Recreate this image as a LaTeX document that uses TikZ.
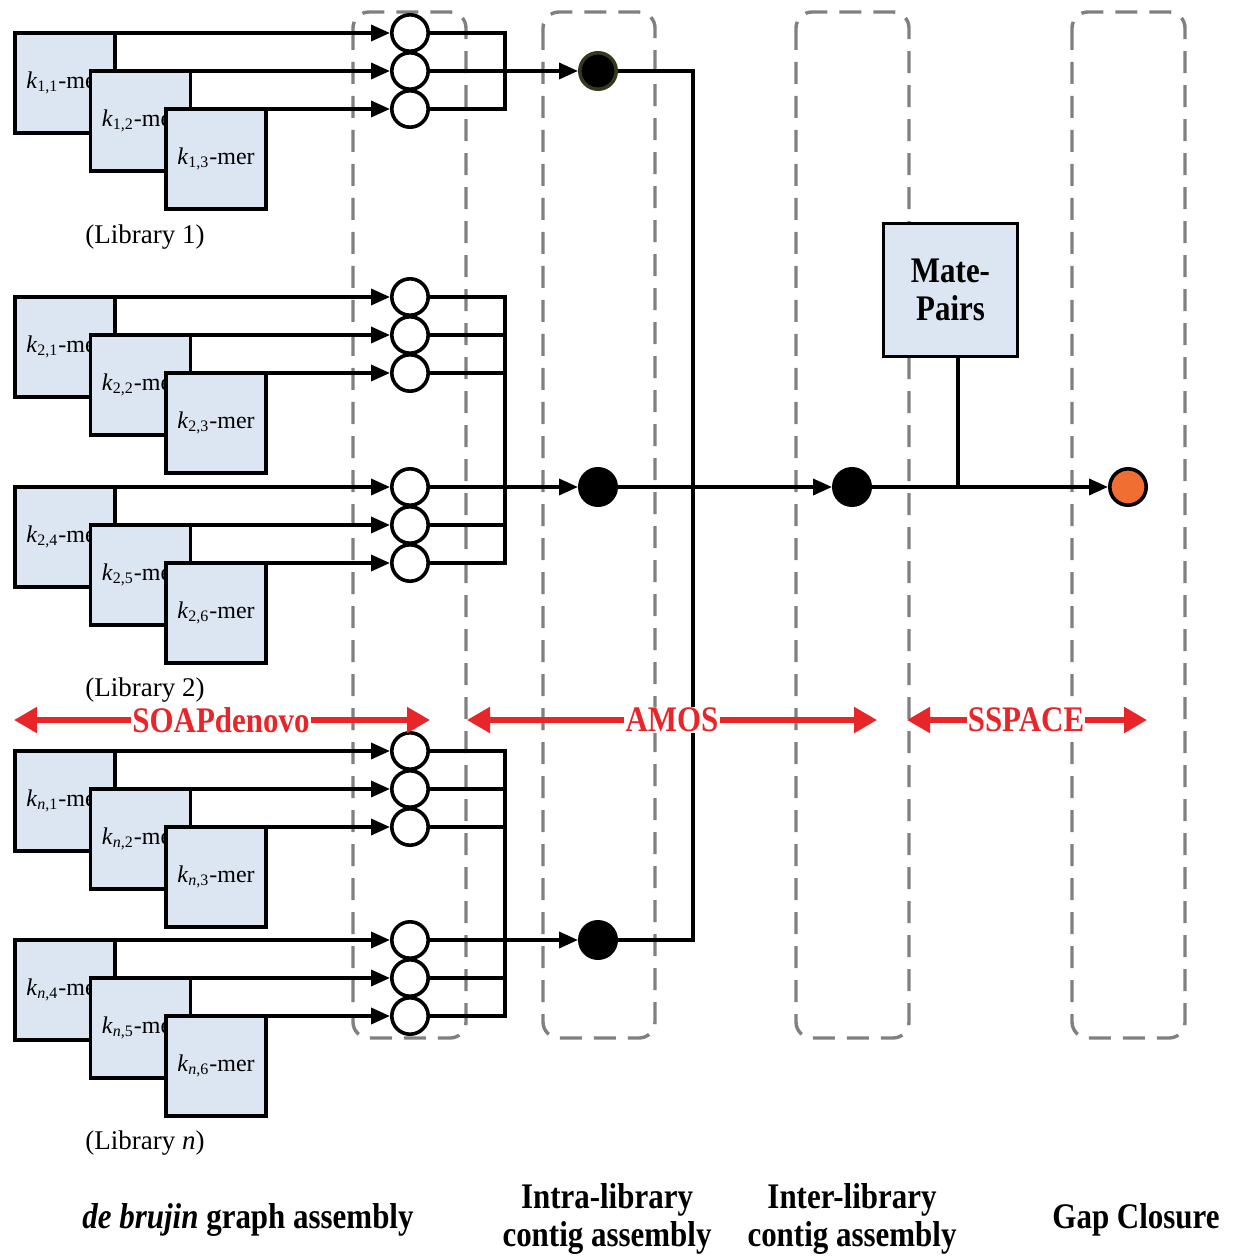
\documentclass[tikz,border=0pt]{standalone}
\usepackage{fontspec}
\setmainfont{Liberation Serif}
\newfontfamily\condfont[FakeStretch=0.86]{Liberation Serif}
\usetikzlibrary{arrows.meta,calc}
\definecolor{boxblue}{RGB}{220,230,242}
\definecolor{arrred}{RGB}{232,38,42}
\definecolor{orangefill}{RGB}{240,110,50}
\definecolor{dashgray}{RGB}{128,128,128}
\definecolor{olivedge}{RGB}{55,55,30}
\begin{document}
\begin{tikzpicture}[x=0.5pt,y=-0.5pt,
  kbox/.style={draw=black,line width=1.8pt,fill=boxblue,minimum width=50pt,minimum height=50pt,inner sep=0pt,outer sep=0pt,font=\fontsize{12pt}{14pt}\selectfont},
  ocirc/.style={circle,draw=black,fill=white,line width=1.8pt,minimum size=18.2pt,inner sep=0pt},
  bcirc/.style={circle,draw=black,fill=black,line width=1.8pt,minimum size=18.2pt,inner sep=0pt},
  orcirc/.style={circle,draw=black,fill=orangefill,line width=1.8pt,minimum size=18.2pt,inner sep=0pt},
  conn/.style={draw=black,line width=1.8pt},
  arr/.style={conn,-{Triangle[length=9.5pt,width=8pt]}},
  redarr/.style={draw=arrred,line width=2.6pt,{Triangle[length=11.5pt,width=12.5pt]}-{Triangle[length=11.5pt,width=12.5pt]}},
  redlabel/.style={fill=white,inner sep=0.6pt,text=arrred,font=\condfont\bfseries\fontsize{18pt}{19pt}\selectfont},
  stagebox/.style={draw=dashgray,line width=1.7pt,dash pattern=on 11pt off 6pt,rounded corners=8pt},
  stagelabel/.style={align=center,font=\condfont\bfseries\fontsize{18pt}{19pt}\selectfont},
  liblabel/.style={font=\fontsize{13.5pt}{15pt}\selectfont}
]
\useasboundingbox (0,0) rectangle (1241,1256);

% dashed stage frames
\draw[stagebox] (353,12) rectangle (466,1038);
\draw[stagebox] (543,12) rectangle (655,1038);
\draw[stagebox] (796,12) rectangle (909,1038);
\draw[stagebox] (1072,12) rectangle (1185,1038);

% k-mer groups
\foreach \g/\T/\ta/\tb/\tc in {1/33/{1,1}/{1,2}/{1,3}, 2/297/{2,1}/{2,2}/{2,3}, 3/487/{2,4}/{2,5}/{2,6}, 4/751/{\textit{n},1}/{\textit{n},2}/{\textit{n},3}, 5/940/{\textit{n},4}/{\textit{n},5}/{\textit{n},6}}{
  \node[kbox] (b\g-1) at (65,\T+50) {\textit{k}\textsubscript{\ta}-mer};
  \node[kbox] (b\g-2) at (140.5,\T+88) {\textit{k}\textsubscript{\tb}-mer};
  \node[kbox] (b\g-3) at (216,\T+126) {\textit{k}\textsubscript{\tc}-mer};
  \coordinate (r\g-1) at (505,\T);
  \coordinate (r\g-2) at (505,\T+38);
  \coordinate (r\g-3) at (505,\T+76);
  \path (410,\T) node[ocirc] (c\g-1) {};
  \path (410,\T+38) node[ocirc] (c\g-2) {};
  \path (410,\T+76) node[ocirc] (c\g-3) {};
  \draw[arr] (b\g-1.north east) -- (c\g-1.west);
  \draw[arr] (b\g-2.north east) -- (c\g-2.west);
  \draw[arr] (b\g-3.north east) -- (c\g-3.west);
}

% library labels
\node[liblabel] (lib1) at (145,237) {(Library 1)};
\node[liblabel] (lib2) at (145,690) {(Library 2)};
\node[liblabel] (libn) at (145,1143) {(Library \textit{n})};

% contig nodes
\node[bcirc,draw=olivedge] (B1) at (598,71) {};
\node[bcirc] (B2) at (598,487) {};
\node[bcirc] (B3) at (598,940) {};
\node[bcirc] (B4) at (852,487) {};
\node[orcirc] (O) at (1128,487) {};

% collectors
\draw[conn] (c1-1.east) -- (r1-1) -- (r1-3) -- (c1-3.east);
\draw[conn] (c2-1.east) -- (r2-1) -- (r3-3) -- (c3-3.east);
\draw[conn] (c2-2.east) -- (r2-2);
\draw[conn] (c2-3.east) -- (r2-3);
\draw[conn] (c3-2.east) -- (r3-2);
\draw[conn] (c4-1.east) -- (r4-1) -- (r5-3) -- (c5-3.east);
\draw[conn] (c4-2.east) -- (r4-2);
\draw[conn] (c4-3.east) -- (r4-3);
\draw[conn] (c5-2.east) -- (r5-2);

\draw[arr] (c1-2.east) -- (B1.west);
\draw[arr] (c3-1.east) -- (B2.west);
\draw[arr] (c5-1.east) -- (B3.west);

\coordinate (jt) at (693,71);
\coordinate (jb) at (693,940);
\draw[conn] (B1.east) -- (jt) -- (jb) -- (B3.east);
\draw[arr] (B2.east) -- (B4.west);
\draw[arr] (B4.east) -- (O.west);

% mate pairs
\node[kbox,minimum width=67pt,minimum height=66.5pt,align=center,font=\condfont\bfseries\fontsize{18pt}{19pt}\selectfont] (MP) at (950.5,290) {Mate-\\Pairs};
\coordinate (jm) at (958,487);
\draw[conn] (MP.south -| jm) -- (jm);

% tool ranges
\coordinate (s1) at (14,720); \coordinate (s2) at (430,720);
\coordinate (a1) at (467,720); \coordinate (a2) at (877,720);
\coordinate (p1) at (907,720); \coordinate (p2) at (1147,720);
\draw[redarr] (s1) -- (s2);
\draw[redarr] (a1) -- (a2);
\draw[redarr] (p1) -- (p2);
\node[redlabel] (soap) at (221,720) {SOAPdenovo};
\node[redlabel] (amos) at (672,720) {AMOS};
\node[redlabel] (sspace) at (1026,720) {SSPACE};

% stage labels
\node[stagelabel] (st1) at (248,1220) {\itshape de brujin\upshape{} graph assembly};
\node[stagelabel] (st2) at (607,1219) {Intra-library\\contig assembly};
\node[stagelabel] (st3) at (852,1219) {Inter-library\\contig assembly};
\node[stagelabel] (st4) at (1136,1220) {Gap Closure};
\end{tikzpicture}
\end{document}
